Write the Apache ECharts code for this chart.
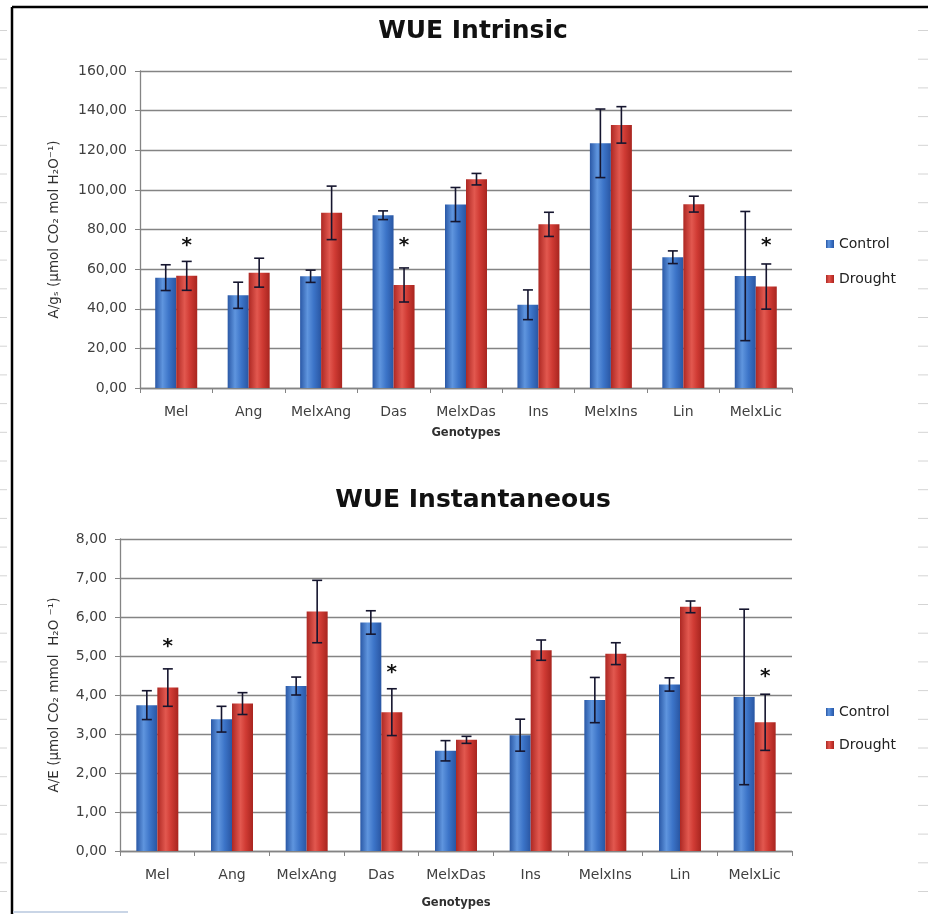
<!DOCTYPE html>
<html>
<head>
<meta charset="utf-8">
<script src="https://cdn.jsdelivr.net/npm/echarts@6/dist/echarts.min.js"></script>
<style>
  html, body { margin: 0; padding: 0; background: #fff; }
  #chart { width: 928px; height: 914px; }
</style>
</head>
<body>
<div id="chart"></div>
<script>
// Genotypes on the x axis of both panels
const categories = ['Mel', 'Ang', 'MelxAng', 'Das', 'MelxDas', 'Ins', 'MelxIns', 'Lin', 'MelxLic'];

// WUE intrinsic (A/gs), means and standard errors
const intrinsicControl    = [55.7, 46.8, 56.4, 87.2, 92.6, 42.0, 123.5, 66.0, 56.5];
const intrinsicControlErr = [6.5, 6.6, 3.1, 2.2, 8.6, 7.5, 17.3, 3.2, 32.6];
const intrinsicDrought    = [56.6, 58.2, 88.4, 52.0, 105.4, 82.6, 132.8, 92.8, 51.2];
const intrinsicDroughtErr = [7.3, 7.3, 13.5, 8.6, 2.9, 6.1, 9.2, 4.0, 11.4];
const intrinsicStars      = [74, null, null, 74, null, null, null, null, 74];

// WUE instantaneous (A/E), means and standard errors
const instControl    = [3.74, 3.38, 4.23, 5.86, 2.57, 2.97, 3.87, 4.27, 3.95];
const instControlErr = [0.37, 0.33, 0.23, 0.30, 0.26, 0.41, 0.58, 0.17, 2.25];
const instDrought    = [4.19, 3.78, 6.14, 3.56, 2.85, 5.15, 5.06, 6.26, 3.30];
const instDroughtErr = [0.48, 0.28, 0.80, 0.60, 0.09, 0.26, 0.28, 0.15, 0.72];
const instStars      = [5.35, null, null, 4.67, null, null, null, null, 4.58];

const seriesNames = ['Control', 'Drought'];

const FONT = 'DejaVu Sans';
const BAR_W = 21;
const LABEL_COLOR = '#404040';
const GRID_COLOR = '#848484';

const blueFill = new echarts.graphic.LinearGradient(0, 0, 1, 0, [
  { offset: 0, color: '#2a58a6' },
  { offset: 0.35, color: '#5f95de' },
  { offset: 0.65, color: '#3c74c8' },
  { offset: 1, color: '#2956a3' }
]);
const redFill = new echarts.graphic.LinearGradient(0, 0, 1, 0, [
  { offset: 0, color: '#ad2823' },
  { offset: 0.4, color: '#e2584f' },
  { offset: 0.65, color: '#d03b34' },
  { offset: 1, color: '#a8251f' }
]);

function fmt(v) { return v.toFixed(2).replace('.', ','); }

function errorItems(values, errs) {
  return values.map((v, i) => [i, v, errs[i]]);
}
function starItems(stars) {
  return stars.map((v, i) => (v == null ? null : [i, v])).filter(d => d);
}

function errorSeries(idx, values, errs, offset) {
  return {
    type: 'custom',
    xAxisIndex: idx, yAxisIndex: idx,
    z: 10,
    silent: true,
    encode: { x: 0, y: 1 },
    data: errorItems(values, errs),
    renderItem: function (params, api) {
      const c = api.value(0), v = api.value(1), e = api.value(2);
      const x = api.coord([c, v])[0] + offset;
      const yTop = api.coord([c, v + e])[1];
      const yBot = api.coord([c, v - e])[1];
      const half = 5;
      const st = { stroke: '#15152e', lineWidth: 1.6 };
      return {
        type: 'group',
        children: [
          { type: 'line', shape: { x1: x, y1: yTop, x2: x, y2: yBot }, style: st },
          { type: 'line', shape: { x1: x - half, y1: yTop, x2: x + half, y2: yTop }, style: st },
          { type: 'line', shape: { x1: x - half, y1: yBot, x2: x + half, y2: yBot }, style: st }
        ]
      };
    }
  };
}

function starSeries(idx, stars) {
  return {
    type: 'custom',
    xAxisIndex: idx, yAxisIndex: idx,
    z: 11,
    silent: true,
    encode: { x: 0, y: 1 },
    data: starItems(stars),
    renderItem: function (params, api) {
      const p = api.coord([api.value(0), api.value(1)]);
      return {
        type: 'text',
        style: {
          text: '*',
          x: p[0] + BAR_W / 2,
          y: p[1] + 4,
          font: 'bold 20px ' + FONT,
          fill: '#111',
          align: 'center',
          verticalAlign: 'middle'
        }
      };
    }
  };
}

function barSeries(idx, name, values, fill) {
  return {
    type: 'bar',
    name: name,
    xAxisIndex: idx, yAxisIndex: idx,
    barWidth: BAR_W,
    barGap: '0%',
    itemStyle: { color: fill },
    data: values
  };
}

function xAxisCfg(idx, nameGap) {
  return {
    type: 'category',
    gridIndex: idx,
    data: categories,
    name: 'Genotypes',
    nameLocation: 'middle',
    nameGap: nameGap,
    nameTextStyle: { fontFamily: FONT, fontWeight: 'bold', fontSize: 11.5, color: '#303030' },
    axisLine: { lineStyle: { color: GRID_COLOR, width: 1.3 } },
    axisTick: { show: true, length: 5, lineStyle: { color: GRID_COLOR } },
    axisLabel: { fontFamily: FONT, fontSize: 14, color: LABEL_COLOR, margin: 17, interval: 0 }
  };
}

function yAxisCfg(idx, max, interval, name, nameGap) {
  return {
    type: 'value',
    gridIndex: idx,
    min: 0, max: max, interval: interval,
    name: name,
    nameLocation: 'middle',
    nameGap: nameGap,
    nameRotate: 90,
    nameTextStyle: { fontFamily: FONT, fontSize: 13.5, color: '#303030' },
    axisLine: { show: true, lineStyle: { color: GRID_COLOR, width: 1.3 } },
    axisTick: { show: true, length: 5, lineStyle: { color: GRID_COLOR } },
    splitLine: { lineStyle: { color: GRID_COLOR, width: 1.3 } },
    axisLabel: { fontFamily: FONT, fontSize: 14, color: LABEL_COLOR, margin: 13, formatter: fmt }
  };
}

// Sheet frame and row markers around the charts
const frame = [
  { type: 'line', shape: { x1: 12, y1: 7, x2: 928, y2: 7 }, style: { stroke: '#000', lineWidth: 2.5 } },
  { type: 'line', shape: { x1: 12, y1: 7, x2: 12, y2: 914 }, style: { stroke: '#000', lineWidth: 2.5 } },
  { type: 'line', shape: { x1: 13, y1: 912, x2: 128, y2: 912 }, style: { stroke: '#c9d5e6', lineWidth: 2 } }
];
for (let y = 30.5; y < 914; y += 28.7) {
  frame.push({ type: 'line', shape: { x1: 0, y1: y, x2: 7, y2: y }, style: { stroke: '#d4d4d4', lineWidth: 1 } });
  frame.push({ type: 'line', shape: { x1: 918, y1: y, x2: 928, y2: y }, style: { stroke: '#d4d4d4', lineWidth: 1 } });
}

const chart = echarts.init(document.getElementById('chart'), null, { renderer: 'canvas' });

chart.setOption({
  animation: false,
  backgroundColor: '#ffffff',
  title: [
    { text: 'WUE Intrinsic', left: 468, top: 14, textAlign: 'center',
      textStyle: { fontFamily: FONT, fontWeight: 'bold', fontSize: 25, color: '#111' } },
    { text: 'WUE Instantaneous', left: 468, top: 483, textAlign: 'center',
      textStyle: { fontFamily: FONT, fontWeight: 'bold', fontSize: 25, color: '#111' } }
  ],
  legend: [
    { data: seriesNames, orient: 'vertical', left: 821, top: 232, itemWidth: 8, itemHeight: 8,
      itemGap: 21, icon: 'rect', textStyle: { fontFamily: FONT, fontSize: 14, color: '#222' } },
    { data: seriesNames, orient: 'vertical', left: 821, top: 700, itemWidth: 8, itemHeight: 8,
      itemGap: 19, icon: 'rect', textStyle: { fontFamily: FONT, fontSize: 14, color: '#222' } }
  ],
  grid: [
    { left: 140, right: 136, top: 71, bottom: 526 },
    { left: 120, right: 136, top: 539, bottom: 63 }
  ],
  xAxis: [xAxisCfg(0, 39), xAxisCfg(1, 46)],
  yAxis: [
    yAxisCfg(0, 160, 20, 'A/gₛ (µmol CO₂ mol H₂O⁻¹)', 79),
    yAxisCfg(1, 8, 1, 'A/E (µmol CO₂ mmol  H₂O ⁻¹)', 59)
  ],
  series: [
    barSeries(0, 'Control', intrinsicControl, blueFill),
    barSeries(0, 'Drought', intrinsicDrought, redFill),
    errorSeries(0, intrinsicControl, intrinsicControlErr, -BAR_W / 2),
    errorSeries(0, intrinsicDrought, intrinsicDroughtErr, BAR_W / 2),
    starSeries(0, intrinsicStars),
    barSeries(1, 'Control', instControl, blueFill),
    barSeries(1, 'Drought', instDrought, redFill),
    errorSeries(1, instControl, instControlErr, -BAR_W / 2),
    errorSeries(1, instDrought, instDroughtErr, BAR_W / 2),
    starSeries(1, instStars)
  ],
  graphic: frame
});
</script>
</body>
</html>
